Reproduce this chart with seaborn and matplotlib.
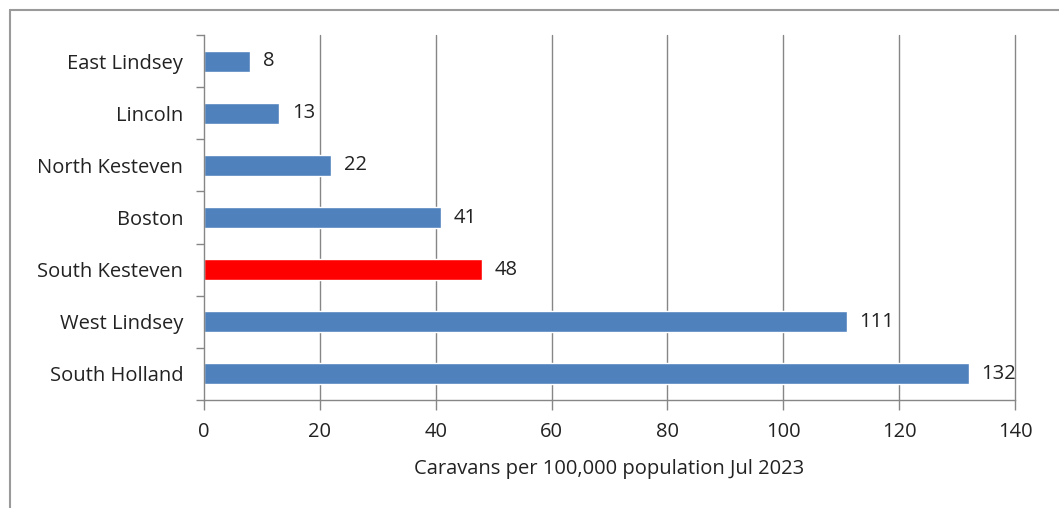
import matplotlib
matplotlib.use('Agg')
import matplotlib.pyplot as plt
from matplotlib.lines import Line2D
import seaborn as sns
import pandas as pd

districts = ['East Lindsey', 'Lincoln', 'North Kesteven', 'Boston',
             'South Kesteven', 'West Lindsey', 'South Holland']
caravans = [8, 13, 22, 41, 48, 111, 132]
highlight = 'South Kesteven'
x_ticks = [0, 20, 40, 60, 80, 100, 120, 140]

df = pd.DataFrame({'District': districts, 'Caravans': caravans})

sns.set_style('white')
plt.rcParams['font.family'] = ['Open Sans', 'DejaVu Sans']

blue = '#4F81BD'
red = '#FF0000'
grey = '#868686'
txt = '#222222'
palette = {d: (red if d == highlight else blue) for d in districts}

fig = plt.figure(figsize=(10.59, 5.08), dpi=100)
ax = fig.add_axes([0.1926, 0.2126, 0.7659, 0.7185])

sns.barplot(data=df, y='District', x='Caravans', hue='District', palette=palette,
            order=districts, orient='h', width=0.4, saturation=1, legend=False, ax=ax)

ax.set_xlim(0, 140)
ax.set_ylim(len(districts) - 0.5, -0.5)
ax.set_xticks(x_ticks)
ax.set_xticklabels([str(t) for t in x_ticks], fontsize=14.5, color=txt)
ax.tick_params(axis='y', which='major', left=False, length=0, labelsize=14.5,
               labelcolor=txt, pad=15)
ax.tick_params(axis='x', bottom=True, length=7, width=1, color=grey, direction='out', pad=9)

# Excel style vertical grid
for t in x_ticks[1:]:
    ax.axvline(t, color=grey, lw=1, zorder=0, clip_on=False)

for s in ['top', 'right']:
    ax.spines[s].set_visible(False)
for s in ['left', 'bottom']:
    ax.spines[s].set_color(grey)
    ax.spines[s].set_linewidth(1)

# y tick marks between categories
ax.set_yticks([i - 0.5 for i in range(len(districts) + 1)], minor=True)
ax.tick_params(axis='y', which='minor', left=True, length=6, width=1, color=grey, direction='out')

for i, v in enumerate(caravans):
    ax.annotate(f'{v}', (v, i), xytext=(9, 0), textcoords='offset points',
                ha='left', va='center', fontsize=14.5, color=txt)

ax.set_ylabel('')
ax.set_xlabel('Caravans per 100,000 population Jul 2023', fontsize=14.5,
              color=txt, labelpad=12)

# border of the chart frame (top and left only visible)
fig.add_artist(Line2D([10 / 1059, 1], [1 - 10 / 508, 1 - 10 / 508],
                      transform=fig.transFigure, color='#9a9a9a', lw=1.5))
fig.add_artist(Line2D([10 / 1059, 10 / 1059], [0, 1 - 10 / 508],
                      transform=fig.transFigure, color='#9a9a9a', lw=1.5))

fig.savefig('out.png', dpi=100)
